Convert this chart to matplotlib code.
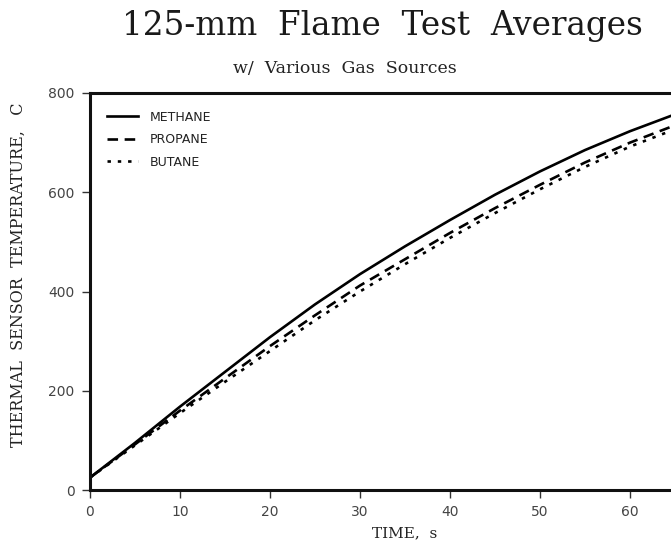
import matplotlib.pyplot as plt

# time in seconds and averaged sensor temperature (C)
time_s = [0, 5, 10, 15, 20, 25, 30, 35, 40, 45, 50, 55, 60, 65, 70]
methane = [25, 95, 168, 238, 308, 374, 435, 491, 544, 595, 642, 685, 723, 757, 788]
propane = [25, 92, 160, 225, 290, 352, 412, 465, 518, 568, 615, 660, 700, 735, 767]
butane = [25, 90, 155, 218, 280, 342, 400, 455, 508, 558, 606, 651, 692, 727, 760]

x_ticks = [0, 10, 20, 30, 40, 50, 60]
y_ticks = [0, 200, 400, 600, 800]

W, H = 671, 551
fig = plt.figure(figsize=(W / 100, H / 100), dpi=100)
# axes runs on past the right edge (picture is cropped there)
ax = fig.add_axes([90 / W, 1 - 490 / H, 630 / W, 397 / H])

ax.plot(time_s, methane, color='black', lw=1.9, ls='-', label='METHANE')
ax.plot(time_s, propane, color='black', lw=1.9, ls=(0, (4, 2.5)), label='PROPANE')
ax.plot(time_s, butane, color='black', lw=1.9, ls=(0, (1.3, 2.6)), label='BUTANE')

ax.set_xlim(0, 70)
ax.set_ylim(0, 800)
ax.set_xticks(x_ticks)
ax.set_yticks(y_ticks)
ax.tick_params(direction='out', length=6, width=1, colors='#333333',
               labelsize=10, pad=5)
for lab in ax.get_xticklabels() + ax.get_yticklabels():
    lab.set_fontfamily('DejaVu Sans')
    lab.set_color('#444444')

for side in ['left', 'bottom', 'top', 'right']:
    ax.spines[side].set_linewidth(2.2)
    ax.spines[side].set_color('#111111')

leg = ax.legend(loc='upper left', bbox_to_anchor=(0.027, 0.955), frameon=False,
                fontsize=9, handlelength=2.5, handletextpad=0.9,
                labelspacing=0.75, borderpad=0, borderaxespad=0)
for t in leg.get_texts():
    t.set_color('#222222')

fig.text(382 / W, 1 - 35 / H, '125-mm  Flame  Test  Averages', family='DejaVu Serif',
         fontsize=23.5, ha='center', va='baseline', color='#1a1a1a')
fig.text(345 / W, 1 - 73 / H, 'w/  Various  Gas  Sources', family='DejaVu Serif',
         fontsize=12.5, ha='center', va='baseline', color='#222222')
fig.text(405 / W, 1 - 533 / H, 'TIME,  s', family='DejaVu Serif',
         fontsize=11, ha='center', va='center', color='#222222')
fig.text(18 / W, 1 - 275 / H, 'THERMAL  SENSOR  TEMPERATURE,   C', family='DejaVu Serif',
         fontsize=11.5, ha='center', va='center', rotation=90, color='#222222')

fig.savefig('out.png', dpi=100)
